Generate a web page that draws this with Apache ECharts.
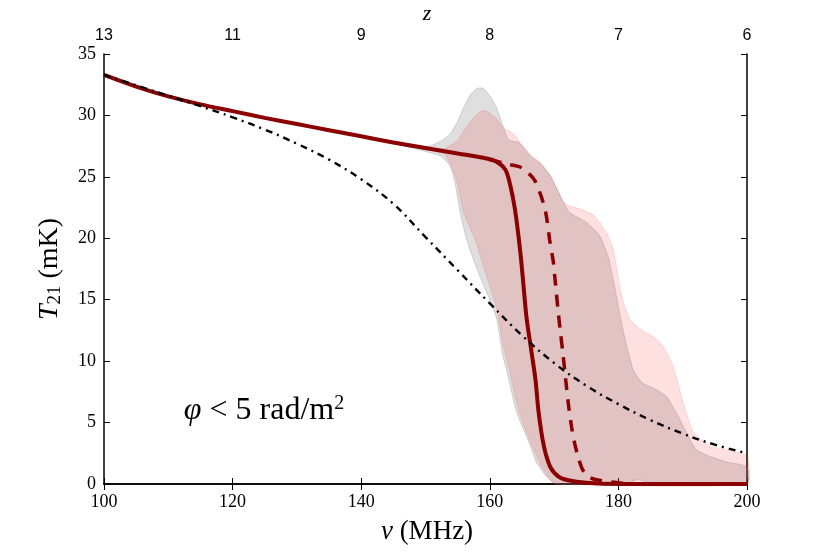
<!DOCTYPE html>
<html>
<head>
<meta charset="utf-8">
<script src="https://cdn.jsdelivr.net/npm/echarts@6/dist/echarts.min.js"></script>
<style>
  html, body { margin: 0; padding: 0; background: #fff; }
  #chart { width: 830px; height: 554px; }
</style>
</head>
<body>
<div id="chart"></div>
<script>
// tick labels
let nuTicks = [100, 120, 140, 160, 180, 200];
let zTickLabels = ['13', '11', '9', '8', '7', '6'];

// mean T21 curve (solid) : [nu MHz, T mK]
let solidLine = [
  [100, 33.3], [105, 32.35], [110, 31.55], [115, 30.9], [120, 30.35], [125, 29.8],
  [130, 29.3], [135, 28.8], [140, 28.3], [145, 27.8], [150, 27.35], [155, 26.9],
  [159.5, 26.5], [161, 26.25], [162.4, 25.6], [163.1, 24.5], [163.9, 22.4],
  [164.7, 19.1], [165.2, 16.4], [165.7, 13.6], [166.5, 10.7], [167.1, 8.5],
  [167.6, 5.8], [168.4, 3.1], [169.4, 1.4], [170.7, 0.6], [172.2, 0.3],
  [175, 0.1], [180, 0], [200, 0]
];

// dashed curve
let dashedLine = [
  [160, 26.4], [163.1, 26.0], [164.7, 25.8], [166.2, 25.2], [167, 24.7],
  [167.8, 23.7], [168.3, 22.9], [168.8, 21.8], [169.3, 19.9], [169.9, 18.0],
  [170.1, 16.9], [170.7, 13.7], [171, 12.3], [171.4, 10.5], [171.8, 8.5],
  [172.2, 6.6], [172.7, 4.7], [173.2, 3.3], [173.8, 2.1], [174.5, 1.1],
  [175.5, 0.55], [177, 0.3], [180, 0.1], [183, 0], [200, 0]
];

// dash-dot curve
let dashDotLine = [
  [100, 33.3], [105, 32.45], [110, 31.6], [115, 30.75], [120, 29.85], [125, 28.85],
  [130, 27.7], [135, 26.4], [140, 24.8], [145, 22.8], [150, 20.1], [155, 17.4],
  [160, 14.7], [165, 12.1], [170, 9.85], [175, 8.0], [180, 6.5], [185, 5.2],
  [190, 4.1], [195, 3.2], [200, 2.5]
];

// grey band
let greyUpper = [
  [145, 27.7], [148, 27.4], [150, 27.4], [152, 27.8], [153, 28.1], [154, 28.6],
  [155, 29.5], [156, 30.7], [157, 31.7], [158, 32.2], [159, 32.2], [160, 31.6],
  [161, 30.7], [162, 29.2], [162.8, 28.1], [163.5, 27.9], [164.5, 27.8],
  [165.5, 27.2], [166.5, 26.6], [167.8, 26.1], [169.4, 25.1], [171.4, 23.0],
  [172.4, 22.1], [175, 21.3], [177.1, 20.2], [178.4, 18.5], [179.2, 16.6],
  [180.7, 12.6], [182.3, 9.3], [183.8, 8.2], [185.9, 7.7], [187.5, 7.1],
  [189, 5.8], [190.6, 4.2], [192.1, 2.8], [194.2, 2.25], [196.8, 1.8], [200, 1.4]
];
let greyLower = [
  [145, 27.7], [149, 27.2], [152.3, 26.7], [153.8, 25.9], [154.6, 24.5],
  [155.4, 22.1], [156.4, 19.9], [158, 17.5], [160, 15.0], [161.1, 13.4],
  [162, 10.5], [162.6, 9.3], [164.2, 5.8], [165.7, 3.9], [166.3, 3.1],
  [167.3, 1.7], [167.8, 1.3], [168.8, 0.6], [170.3, 0], [181, 0], [183, 0.35],
  [185, 0.1], [186, 0], [200, 0]
];

// pink band
let pinkUpper = [
  [145, 27.7], [150, 27.3], [153, 27.3], [155, 28.0], [156.4, 29.1], [158, 30.1],
  [159, 30.4], [160, 30.2], [161.1, 29.7], [162.1, 29.0], [163.7, 28.5],
  [164.7, 27.8], [165.5, 27.3], [166.5, 26.7], [167.8, 26.2], [169.4, 25.1],
  [171.4, 23.0], [172.5, 22.6], [174, 22.4], [176.1, 21.9], [177.1, 21.3],
  [178.2, 20.4], [179.2, 19.1], [180.5, 15.3], [181.8, 13.4], [183.4, 12.6],
  [185.4, 12.0], [187, 11.2], [188.5, 9.6], [190.1, 6.6], [191.7, 4.2],
  [194.2, 3.1], [197.4, 2.7], [200, 2.25]
];
let pinkLower = [
  [145, 27.7], [150, 27.2], [153, 26.8], [154.8, 24.8], [155.9, 22.1],
  [157.7, 19.9], [159.5, 16.9], [161.1, 14.2], [162.2, 11.0], [163, 9.3],
  [164.6, 5.8], [166.2, 3.6], [167.5, 2.0], [168.5, 1.0], [169.5, 0.3],
  [170.5, 0], [200, 0]
];

let serif = '"Liberation Serif", "DejaVu Serif", serif';
let sans = '"Liberation Sans", "DejaVu Sans", sans-serif';

function bandSeries(upper, lower, fill, stroke) {
  return {
    type: 'custom',
    silent: true,
    data: [[upper[0][0], upper[0][1]]],
    renderItem: function (params, api) {
      let pts = upper.map(function (p) { return api.coord(p); });
      let low = lower.slice().reverse();
      for (let i = 0; i < low.length; i++) {
        pts.push(api.coord(low[i]));
      }
      return {
        type: 'polygon',
        shape: { points: pts, smooth: 0.2 },
        style: { fill: fill, stroke: stroke, lineWidth: 1 }
      };
    }
  };
}

let axisLineStyle = { color: '#000', width: 1.5 };
let tickStyle = { inside: true, length: 6, lineStyle: { color: '#000', width: 1 } };

let option = {
  animation: false,
  backgroundColor: '#fff',
  grid: { left: 104, right: 83, top: 54, bottom: 70 },
  xAxis: [
    {
      type: 'value', min: 100, max: 200, interval: 20,
      position: 'bottom',
      axisLine: { lineStyle: axisLineStyle },
      axisTick: tickStyle,
      axisLabel: { fontFamily: serif, fontSize: 18, color: '#000', margin: 9 },
      splitLine: { show: false }
    },
    {
      type: 'value', min: 100, max: 200, interval: 20,
      position: 'top',
      axisLine: { lineStyle: axisLineStyle },
      axisTick: tickStyle,
      axisLabel: {
        fontFamily: sans, fontSize: 16, color: '#000', margin: 10,
        formatter: function (v) { return zTickLabels[nuTicks.indexOf(v)]; }
      },
      splitLine: { show: false }
    }
  ],
  yAxis: [
    {
      type: 'value', min: 0, max: 35, interval: 5,
      position: 'left',
      axisLine: { lineStyle: axisLineStyle },
      axisTick: tickStyle,
      axisLabel: { fontFamily: serif, fontSize: 18, color: '#000', margin: 8 },
      splitLine: { show: false }
    },
    {
      type: 'value', min: 0, max: 35, interval: 5,
      position: 'right',
      axisLine: { lineStyle: axisLineStyle },
      axisTick: tickStyle,
      axisLabel: { show: false },
      splitLine: { show: false }
    }
  ],
  series: [
    bandSeries(greyUpper, greyLower, 'rgba(128,128,128,0.25)', 'rgba(128,128,128,0.3)'),
    bandSeries(pinkUpper, pinkLower, 'rgba(255,0,0,0.12)', 'rgba(255,0,0,0.12)'),
    {
      type: 'line', data: dashedLine, showSymbol: false, clip: false,
      smooth: 0.3,
      lineStyle: { color: '#8b0000', width: 3.5, type: [12, 9] }
    },
    {
      type: 'line', data: solidLine, showSymbol: false, clip: false,
      smooth: 0.3,
      lineStyle: { color: '#8b0000', width: 4 }
    },
    {
      type: 'line', data: dashDotLine, showSymbol: false,
      smooth: 0.4,
      lineStyle: { color: '#000', width: 2.4, type: [7, 5, 2, 5] }
    }
  ],
  graphic: [
    {
      type: 'text', x: 50, y: 269, rotation: Math.PI / 2,
      style: {
        text: '{i|T}{s|21} (mK)',
        fontFamily: serif, fontSize: 28, fill: '#000',
        align: 'center', verticalAlign: 'middle',
        rich: {
          i: { fontFamily: serif, fontSize: 28, fontStyle: 'italic' },
          s: { fontFamily: serif, fontSize: 19, padding: [11, 0, 0, 0] }
        }
      }
    },
    {
      type: 'text', x: 427, y: 532,
      style: {
        text: '{i|ν} (MHz)',
        fontFamily: serif, fontSize: 27, fill: '#000',
        align: 'center', verticalAlign: 'middle',
        rich: { i: { fontFamily: serif, fontSize: 27, fontStyle: 'italic' } }
      }
    },
    {
      type: 'text', x: 427, y: 14,
      style: {
        text: 'z', fontFamily: serif, fontSize: 22, fontStyle: 'italic', fill: '#000',
        align: 'center', verticalAlign: 'middle'
      }
    },
    {
      type: 'text', x: 264, y: 411,
      style: {
        text: '{i|φ} < 5 rad/m{p|2}',
        fontFamily: serif, fontSize: 32, fill: '#000',
        align: 'center', verticalAlign: 'middle',
        rich: {
          i: { fontFamily: serif, fontSize: 32, fontStyle: 'italic' },
          p: { fontFamily: serif, fontSize: 20, padding: [0, 0, 15, 0] }
        }
      }
    }
  ]
};

let myChart = echarts.init(document.getElementById('chart'));
myChart.setOption(option);
</script>
</body>
</html>
